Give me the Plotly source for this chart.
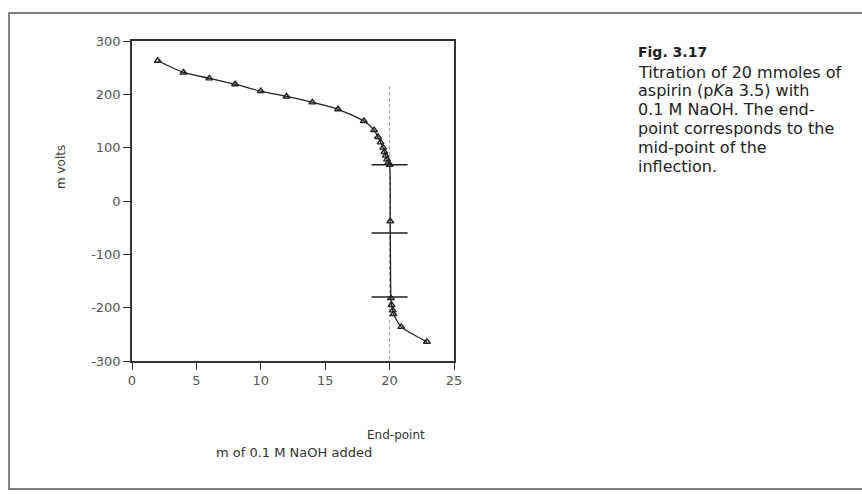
import plotly.graph_objects as go

# Titration data (ml NaOH added, mV)
ml_added = [2, 4, 6, 8, 10, 12, 14, 16, 18, 18.8, 19.1, 19.3, 19.5, 19.6, 19.7,
            19.8, 19.9, 20.0, 20.05, 20.1, 20.15, 20.25, 20.3, 20.9, 22.9]
mvolts = [263, 241, 230, 219, 206, 196, 185, 172, 150, 133, 120, 110, 100, 92, 85,
          78, 72, 68, -38, -182, -195, -205, -212, -236, -264]

# Cross-hair marks near the end-point
cross_y = [68, -60, -180]
cross_x = 20.0
cross_half = 1.4
endpoint_line_y = [215, -300]

x_ticks = [0, 5, 10, 15, 20, 25]
y_ticks = [-300, -200, -100, 0, 100, 200, 300]
y_tick_labels = ["-300", "-200", "-100", "0", "100", "200", "300"]

caption_title = "Fig. 3.17"
caption_lines = ["Titration of 20 mmoles of", "aspirin (p<i>K</i>a 3.5) with",
                 "0.1 M NaOH. The end-", "point corresponds to the",
                 "mid-point of the", "inflection."]

FONT = "DejaVu Sans"
fig = go.Figure()

# dotted end-point line
fig.add_trace(go.Scatter(x=[cross_x, cross_x], y=endpoint_line_y, mode="lines",
                         line=dict(color="#999999", width=1, dash="dot"),
                         hoverinfo="skip", showlegend=False))

# cross-hair bars
cx, cy = [], []
for yv in cross_y:
    cx += [cross_x - cross_half, cross_x + cross_half, None]
    cy += [yv, yv, None]
fig.add_trace(go.Scatter(x=cx, y=cy, mode="lines",
                         line=dict(color="#222222", width=1.6),
                         hoverinfo="skip", showlegend=False))

# titration curve
fig.add_trace(go.Scatter(x=ml_added, y=mvolts, mode="lines+markers",
                         line=dict(color="#222222", width=1.3, shape="spline", smoothing=0.6),
                         marker=dict(symbol="triangle-up-open", size=6, color="#222222",
                                     line=dict(width=1.4, color="#222222")),
                         showlegend=False))

axis_common = dict(showline=True, linecolor="#333333", linewidth=1.5, mirror=True,
                   ticks="outside", ticklen=7, tickcolor="#333333", tickwidth=1.2,
                   showgrid=False, zeroline=False,
                   tickfont=dict(family=FONT, size=13, color="#555555"))

fig.update_xaxes(range=[0, 25], tickvals=x_ticks, **axis_common)
fig.update_yaxes(range=[-300, 300], tickvals=y_ticks, ticktext=y_tick_labels, **axis_common)

fig.update_layout(
    width=862, height=494,
    margin=dict(l=132, r=408, t=41, b=133),
    paper_bgcolor="white", plot_bgcolor="white",
)

# convert pixel-based annotation positions to paper coords
pw, ph = 862 - 132 - 408, 494 - 41 - 133
def px(x):
    return (x - 132) / pw
def py(y):
    return (494 - 133 - y) / ph

fig.add_annotation(text="m volts", x=px(61), y=py(167), xref="paper", yref="paper",
                   showarrow=False, textangle=-90, xanchor="center", yanchor="middle",
                   font=dict(family=FONT, size=12, color="#444444"))
fig.add_annotation(text="End-point", x=px(396), y=py(435), xref="paper", yref="paper",
                   showarrow=False, xanchor="center", yanchor="middle",
                   font=dict(family=FONT, size=12, color="#333333"))
fig.add_annotation(text="m of 0.1 M NaOH added", x=px(294), y=py(452), xref="paper",
                   yref="paper", showarrow=False, xanchor="center", yanchor="middle",
                   font=dict(family=FONT, size=13, color="#333333"))

fig.add_annotation(text="<b>" + caption_title + "</b>", x=px(636), y=py(52), xref="paper",
                   yref="paper", showarrow=False, xanchor="left", yanchor="middle",
                   font=dict(family=FONT, size=14, color="#222222"))
for i, line in enumerate(caption_lines):
    fig.add_annotation(text=line, x=px(636), y=py(72 + i * 18.8), xref="paper", yref="paper",
                       showarrow=False, xanchor="left", yanchor="middle",
                       font=dict(family=FONT, size=16, color="#222222"))

# page frame
fig.add_shape(type="rect", xref="paper", yref="paper",
              x0=px(9), x1=px(870), y0=py(489), y1=py(13),
              line=dict(color="#555555", width=1.5), fillcolor="rgba(0,0,0,0)", layer="below")

fig.write_html("out.html")
